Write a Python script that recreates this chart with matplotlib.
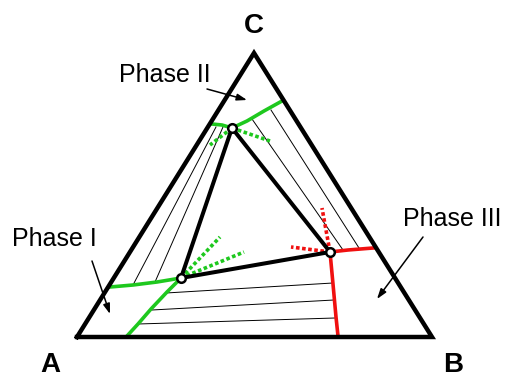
import matplotlib
matplotlib.use("Agg")
import matplotlib.pyplot as plt

# all coordinates are in picture pixels (x right, y down)
corners = {"A": (77, 337), "B": (432, 337), "C": (254, 53)}
corner_labels = ["A", "B", "C"]
corner_label_pos = [(50, 372), (453, 372), (254, 33)]

# three-phase triangle
p1 = (181, 278)
p2 = (232, 128)
p3 = (330, 252)

# phase boundaries (solid)
green_I_left_x = [110, 133, 157, 181]
green_I_left_y = [287, 285, 282, 278]
green_I_down_x = [181, 167, 151, 138, 127]
green_I_down_y = [278, 292, 309, 324, 336]
green_II_x = [212, 222, 232, 247, 264, 282]
green_II_y = [124, 125, 128, 121, 111, 101]
red_III_right_x = [330, 348, 373]
red_III_right_y = [252, 250, 248]
red_III_down_x = [330, 333, 336, 338]
red_III_down_y = [252, 284, 317, 336]

# metastable extensions (dotted)
green_dot_segs = [[p2, (210, 145)], [p2, (270, 141)],
                  [p1, (220, 237)], [p1, (244, 252)]]
red_dot_segs = [[p3, (322, 208)], [p3, (291, 247)]]

# tie lines
tie_I_II = [[(133, 285), (216, 127)], [(155, 282), (223, 127)]]
tie_II_III = [[(252, 119), (343, 250)], [(271, 110), (359, 248)]]
tie_I_III = [[(166, 293), (333, 283)], [(152, 310), (334, 300)],
             [(138, 324), (335, 318)]]

phase_names = ["Phase I", "Phase II", "Phase III"]
phase_text_pos = [(12, 246), (119, 82), (403, 226)]
phase_arrow_from = [(92, 261), (207, 89), (423, 237)]
phase_arrow_to = [(110, 314), (247, 100), (377, 299)]

GREEN = "#1ec81e"
RED = "#f01010"

fig = plt.figure(figsize=(5.07, 3.78), dpi=100)
ax = fig.add_axes([0, 0, 1, 1])
ax.set_xlim(0, 507)
ax.set_ylim(378, 0)
ax.axis("off")

# thin tie lines first
for seg in tie_I_II + tie_II_III + tie_I_III:
    ax.plot([seg[0][0], seg[1][0]], [seg[0][1], seg[1][1]], color="black", lw=0.7)

for seg in green_dot_segs:
    ax.plot([seg[0][0], seg[1][0]], [seg[0][1], seg[1][1]], color=GREEN, lw=2.6,
            linestyle=(0, (1, 0.7)), dash_capstyle="butt")
for seg in red_dot_segs:
    ax.plot([seg[0][0], seg[1][0]], [seg[0][1], seg[1][1]], color=RED, lw=2.6,
            linestyle=(0, (1, 0.7)), dash_capstyle="butt")

ax.plot(green_I_left_x, green_I_left_y, color=GREEN, lw=2.6)
ax.plot(green_I_down_x, green_I_down_y, color=GREEN, lw=2.6)
ax.plot(green_II_x, green_II_y, color=GREEN, lw=2.6)
ax.plot(red_III_right_x, red_III_right_y, color=RED, lw=2.6)
ax.plot(red_III_down_x, red_III_down_y, color=RED, lw=2.6)

# outer triangle
tri = [corners["A"], corners["B"], corners["C"], corners["A"]]
ax.plot([p[0] for p in tri], [p[1] for p in tri], color="black", lw=3.2,
        solid_joinstyle="miter")

# inner triangle
inner = [p1, p2, p3, p1]
ax.plot([p[0] for p in inner], [p[1] for p in inner], color="black", lw=2.9)
ax.plot([p1[0], p2[0], p3[0]], [p1[1], p2[1], p3[1]], "o", ms=6.2,
        mfc="white", mec="black", mew=1.8)

for lab, pos in zip(corner_labels, corner_label_pos):
    ax.text(pos[0], pos[1], lab, fontsize=20, fontweight="bold",
            family="Liberation Sans", ha="center", va="baseline")

for name, pos, a0, a1 in zip(phase_names, phase_text_pos, phase_arrow_from, phase_arrow_to):
    ax.text(pos[0], pos[1], name, fontsize=18, family="Liberation Sans",
            ha="left", va="baseline")
    ax.annotate("", xy=a1, xytext=a0,
                arrowprops=dict(arrowstyle="-|>,head_length=0.6,head_width=0.2",
                                color="black", lw=1.1, shrinkA=0, shrinkB=0))

fig.savefig("out.png", dpi=100)
